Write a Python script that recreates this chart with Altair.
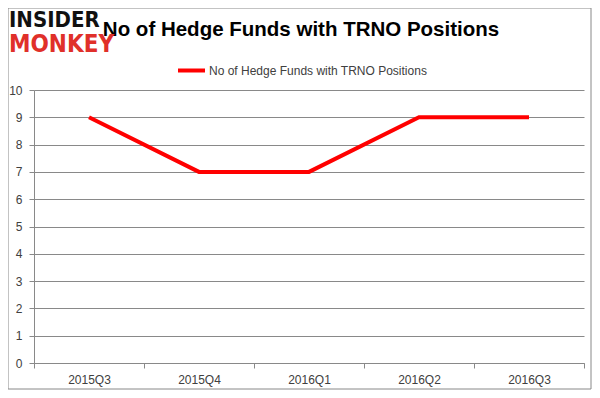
import altair as alt
import pandas as pd

quarters = ["2015Q3", "2015Q4", "2016Q1", "2016Q2", "2016Q3"]
funds = [9, 7, 7, 9, 9]
series_name = "No of Hedge Funds with TRNO Positions"
y_ticks = list(range(0, 11))

df = pd.DataFrame({"quarter": quarters, "funds": funds, "series": [series_name] * len(quarters)})

GRID = "#898989"
TXT = "#404040"
FONT = "Liberation Sans"

line = alt.Chart(df).mark_line(strokeWidth=4, strokeCap="butt").encode(
    x=alt.X("quarter:N", sort=quarters, bandPosition=0.5,
            scale=alt.Scale(type="band", paddingInner=0, paddingOuter=0),
            axis=alt.Axis(title=None, labelAngle=0, tickBand="extent", grid=False,
                          domainColor=GRID, tickColor=GRID, tickSize=5,
                          labelPadding=6, labelFont=FONT, labelFontSize=12,
                          labelColor=TXT)),
    y=alt.Y("funds:Q", scale=alt.Scale(domain=[0, 10], nice=False),
            axis=alt.Axis(title=None, values=y_ticks, grid=True, gridColor=GRID,
                          domainColor=GRID, tickColor=GRID, tickSize=5,
                          labelPadding=7, labelFont=FONT, labelFontSize=12,
                          labelColor=TXT)),
    color=alt.Color("series:N", scale=alt.Scale(range=["#FF0000"]),
                    legend=alt.Legend(title=None, orient="none", legendX=142, legendY=-35,
                                      symbolType="stroke", symbolStrokeWidth=4,
                                      symbolSize=729, labelFont=FONT, labelFontSize=12,
                                      labelColor=TXT, labelOffset=2, labelLimit=0)),
)

one = pd.DataFrame({"k": [0]})
border = alt.Chart(one).mark_rect(fill="transparent", stroke="#888888", strokeWidth=1).encode(
    x=alt.value(-26), x2=alt.value(557), y=alt.value(-82), y2=alt.value(299)
)

title = alt.Chart(one).mark_text(
    text=series_name, font=FONT, fontWeight="bold", fontSize=20.5,
    align="center", baseline="alphabetic", color="#000000"
).encode(x=alt.value(267), y=alt.value(-54))

logo_top = alt.Chart(one).mark_text(
    text="INSIDER", font="DejaVu Sans Condensed", fontWeight="bold", fontSize=22,
    align="left", baseline="alphabetic", color="#111111"
).encode(x=alt.value(-25), y=alt.value(-63))

logo_bottom = alt.Chart(one).mark_text(
    text="MONKEY", font="DejaVu Sans Condensed", fontWeight="bold", fontSize=24,
    align="left", baseline="alphabetic", color="#E0302A"
).encode(x=alt.value(-25), y=alt.value(-38))

chart = alt.layer(border, line, title, logo_top, logo_bottom).properties(
    width=550, height=273,
    autosize=alt.AutoSizeParams(type="none"),
    padding={"left": 26, "top": 82, "right": 8, "bottom": 27},
).configure_view(strokeWidth=0)

chart.save("out.html", embed_options={"renderer": "svg", "actions": False})
